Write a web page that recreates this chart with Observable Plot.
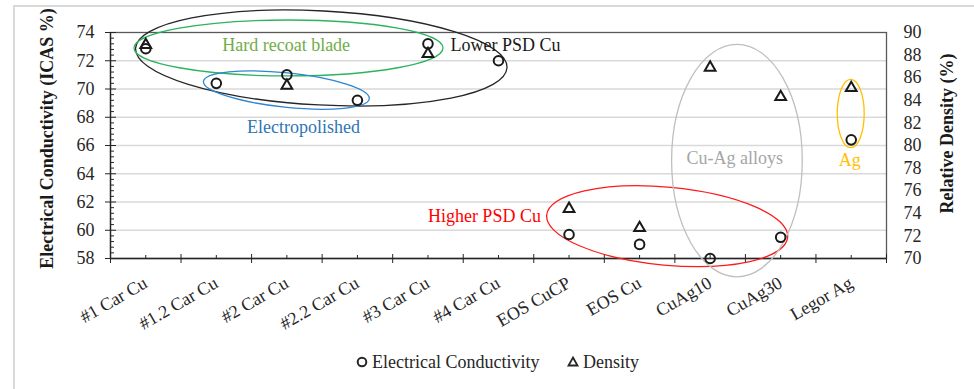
<!DOCTYPE html>
<html><head><meta charset="utf-8">
<script src="https://cdn.jsdelivr.net/npm/d3@7"></script>
<script src="https://cdn.jsdelivr.net/npm/@observablehq/plot@0.6"></script>
<style>
html,body{margin:0;padding:0;background:#fff;}
#wrap{position:relative;width:974px;height:389px;overflow:hidden;font-family:"Liberation Serif","Times New Roman",serif;}
#border{position:absolute;left:13px;top:5px;width:1000px;height:400px;border-left:2px solid #d9d9d9;border-top:2px solid #d9d9d9;}
#chart{position:absolute;left:0;top:0;}
.leg{position:absolute;top:352px;font-size:18px;line-height:20px;color:#262626;display:flex;align-items:center;white-space:nowrap;}
.leg svg{margin-right:3px;}
</style></head><body>
<div id="wrap"><div id="border"></div><div id="chart"></div>
<div class="leg" style="left:355px"><svg width="14" height="14"><circle cx="7" cy="7" r="4.3" fill="none" stroke="#262626" stroke-width="2"/></svg><span>Electrical Conductivity</span></div>
<div class="leg" style="left:566px"><svg width="14" height="14"><path d="M7,2.5L11.5,10.5L2.5,10.5Z" fill="none" stroke="#262626" stroke-width="1.8"/></svg><span>Density</span></div>
</div>
<script>
// ---- data ----
const categories = ["#1 Car Cu","#1.2 Car Cu","#2 Car Cu","#2.2 Car Cu","#3 Car Cu","#4 Car Cu","EOS CuCP","EOS Cu","CuAg10","CuAg30","Legor Ag"];
const conductivity = [72.85, 70.4, 71.0, 69.2, 73.2, 72.0, 59.7, 59.0, 58.0, 59.5, 66.4];
const density = [88.9, null, 85.3, null, 88.1, null, 74.4, 72.7, 86.9, 84.3, 85.1];
const leftTicks = [58, 60, 62, 64, 66, 68, 70, 72, 74];
const rightTicks = [70, 72, 74, 76, 78, 80, 82, 84, 86, 88, 90];
const leftTitle = "Electrical Conductivity (ICAS %)";
const rightTitle = "Relative Density (%)";
// annotation groups (data units: x = category index, y = ICAS %)
const groupNames = ["Lower PSD Cu", "Hard recoat blade", "Electropolished", "Higher PSD Cu", "Cu-Ag alloys", "Ag"];
const ellipses = [
  {x: 2.495, y: 72.16, rx: 2.636, ry: 3.33, angle: 3, color: "#262626"},
  {x: 2.03, y: 72.87, rx: 2.19, ry: 1.98, angle: 0, color: "#2db35d"},
  {x: 2.0, y: 69.89, rx: 1.182, ry: 1.218, angle: 6, color: "#2e86d1"},
  {x: 7.398, y: 60.25, rx: 1.715, ry: 2.76, angle: 5.3, color: "#ff1a1a"},
  {x: 8.387, y: 64.9, rx: 0.926, ry: 8.23, angle: 0, color: "#bfbfbf"},
  {x: 10.0, y: 68.23, rx: 0.191, ry: 2.42, angle: 0, color: "#ffc000"}
];
const labels = [
  {x: 5.1, y: 73.08, anchor: "start", color: "#1a1a1a"},
  {x: 1.99, y: 73.08, anchor: "middle", color: "#70ad47"},
  {x: 2.236, y: 67.27, anchor: "middle", color: "#2e75b6"},
  {x: 4.80, y: 60.97, anchor: "middle", color: "#ff0000"},
  {x: 8.35, y: 65.1, anchor: "middle", color: "#a6a6a6"},
  {x: 9.98, y: 64.94, anchor: "middle", color: "#ffc000"}
];

// density (70..90) mapped onto the ICAS axis (58..74)
const toY = d => 58 + (d - 70) * 16 / 20;
const fromY = v => 70 + (v - 58) * 20 / 16;

const condRows = categories.map((c, i) => ({i, v: conductivity[i]}));
const densRows = categories.map((c, i) => ({i, v: density[i]})).filter(d => d.v != null).map(d => ({i: d.i, v: toY(d.v)}));
const minorLeft = d3.range(58, 74.001, 0.4).filter(v => Math.abs(v / 2 - Math.round(v / 2)) > 0.01);
const centers = d3.range(categories.length);
const bounds = d3.range(categories.length + 1).map(i => i - 0.5);

function ellipseMark(index, scales) {
  const g = d3.create("svg:g");
  for (const e of ellipses) {
    const cx = scales.x(e.x), cy = scales.y(e.y);
    const rx = Math.abs(scales.x(e.x + e.rx) - cx), ry = Math.abs(scales.y(e.y + e.ry) - cy);
    g.append("ellipse").attr("cx", cx).attr("cy", cy).attr("rx", rx).attr("ry", ry)
      .attr("transform", `rotate(${e.angle} ${cx} ${cy})`)
      .attr("fill", "none").attr("stroke", e.color).attr("stroke-width", 1.3);
  }
  return g.node();
}

const chart = Plot.plot({
  width: 974, height: 340,
  marginLeft: 110, marginRight: 88, marginTop: 32, marginBottom: 82,
  style: {fontFamily: "'Liberation Serif', 'Times New Roman', serif", fontSize: "18px", color: "#262626", background: "transparent", overflow: "visible"},
  x: {domain: [-0.5, categories.length - 0.5]},
  y: {domain: [58, 74]},
  marks: [
    Plot.ruleY(leftTicks.slice(1, -1), {stroke: "#d9d9d9", strokeWidth: 1.6}),
    Plot.frame({stroke: "#595959", strokeWidth: 1.3}),
    Plot.ruleX([-0.5], {stroke: "#262626", strokeWidth: 1.3}),
    Plot.ruleY([58], {stroke: "#262626", strokeWidth: 1.3}),
    // left axis
    Plot.axisY({ticks: leftTicks, tickSize: 5, tickPadding: 11, tickFormat: d => String(d), fontSize: 18, label: null, stroke: "#262626"}),
    Plot.axisY({ticks: leftTicks, tickSize: 6, dx: 6, tickFormat: () => "", label: null, stroke: "#262626"}),
    Plot.axisY({ticks: minorLeft, tickSize: 4, dx: 4, tickFormat: () => "", label: null, stroke: "#262626"}),
    // right axis (density)
    Plot.axisY({anchor: "right", ticks: rightTicks.map(toY), tickSize: 0, tickPadding: 17, tickFormat: v => String(Math.round(fromY(v))), fontSize: 18, label: null}),
    // x axis
    Plot.axisX({ticks: centers, tickSize: 0, tickPadding: 23, tickRotate: -30, tickFormat: i => categories[i], fontSize: 18, label: null}),
    Plot.axisX({ticks: centers, tickSize: 3, dy: -3, tickFormat: () => "", label: null, stroke: "#262626"}),
    Plot.axisX({ticks: bounds, tickSize: 5, tickFormat: () => "", label: null, stroke: "#262626"}),
    Plot.axisX({ticks: bounds, tickSize: 4, dy: -4, tickFormat: () => "", label: null, stroke: "#262626"}),
    // axis titles
    Plot.text([leftTitle], {frameAnchor: "left", textAnchor: "middle", lineAnchor: "middle", rotate: -90, dx: -63, dy: -7, fontWeight: "bold", fontSize: 18, fill: "#1a1a1a"}),
    Plot.text([rightTitle], {frameAnchor: "right", textAnchor: "middle", lineAnchor: "middle", rotate: -90, dx: 61, dy: -12, fontWeight: "bold", fontSize: 18, fill: "#1a1a1a"}),
    // annotations
    ellipseMark,
    Plot.text(labels, {x: "x", y: "y", text: (d, i) => groupNames[i], textAnchor: d => d.anchor, fill: d => d.color, fontSize: 18}),
    // data
    Plot.dot(densRows, {x: "i", y: "v", symbol: "triangle", r: 4, stroke: "#1a1a1a", strokeWidth: 2, fill: "none"}),
    Plot.dot(condRows, {x: "i", y: "v", symbol: "circle", r: 4.8, stroke: "#1a1a1a", strokeWidth: 2, fill: "none"})
  ]
});
document.getElementById("chart").appendChild(chart);
</script>
</body></html>
